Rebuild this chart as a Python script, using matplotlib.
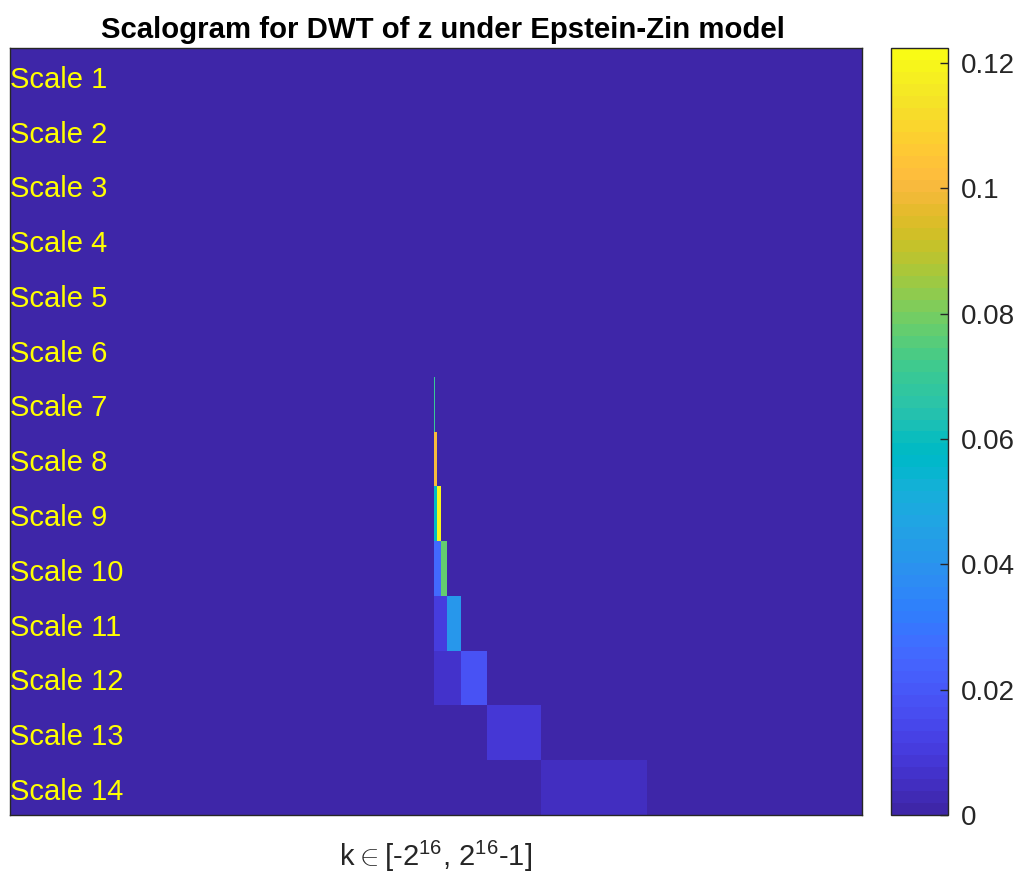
import matplotlib
matplotlib.use("Agg")
import matplotlib.pyplot as plt
import numpy as np
from matplotlib.colors import ListedColormap, Normalize
from matplotlib.transforms import blended_transform_factory

plt.rcParams['font.family'] = ['Liberation Sans', 'DejaVu Sans']
plt.rcParams['mathtext.fontset'] = 'custom'
plt.rcParams['mathtext.rm'] = 'Liberation Sans'

# parula, 64 entries
parula = [
    [0.2422, 0.1504, 0.6603], [0.2504, 0.1650, 0.7076], [0.2578, 0.1818, 0.7511], [0.2647, 0.1978, 0.7952],
    [0.2706, 0.2147, 0.8364], [0.2751, 0.2342, 0.8710], [0.2783, 0.2559, 0.8991], [0.2803, 0.2782, 0.9221],
    [0.2813, 0.3006, 0.9414], [0.2810, 0.3228, 0.9579], [0.2795, 0.3447, 0.9717], [0.2760, 0.3667, 0.9829],
    [0.2699, 0.3892, 0.9906], [0.2602, 0.4123, 0.9952], [0.2440, 0.4358, 0.9988], [0.2206, 0.4603, 0.9973],
    [0.1963, 0.4847, 0.9892], [0.1834, 0.5074, 0.9798], [0.1786, 0.5289, 0.9682], [0.1764, 0.5499, 0.9520],
    [0.1687, 0.5703, 0.9359], [0.1540, 0.5902, 0.9218], [0.1460, 0.6091, 0.9079], [0.1380, 0.6276, 0.8973],
    [0.1248, 0.6459, 0.8883], [0.1113, 0.6635, 0.8763], [0.0952, 0.6798, 0.8598], [0.0689, 0.6948, 0.8394],
    [0.0297, 0.7082, 0.8163], [0.0036, 0.7203, 0.7917], [0.0067, 0.7312, 0.7660], [0.0433, 0.7411, 0.7394],
    [0.0964, 0.7500, 0.7120], [0.1408, 0.7584, 0.6842], [0.1717, 0.7670, 0.6554], [0.1938, 0.7758, 0.6251],
    [0.2161, 0.7843, 0.5923], [0.2470, 0.7918, 0.5567], [0.2906, 0.7973, 0.5188], [0.3406, 0.8008, 0.4789],
    [0.3909, 0.8029, 0.4354], [0.4456, 0.8024, 0.3909], [0.5044, 0.7993, 0.3480], [0.5616, 0.7942, 0.3045],
    [0.6174, 0.7876, 0.2612], [0.6720, 0.7793, 0.2227], [0.7242, 0.7698, 0.1910], [0.7738, 0.7598, 0.1646],
    [0.8203, 0.7498, 0.1535], [0.8634, 0.7406, 0.1596], [0.9035, 0.7330, 0.1774], [0.9393, 0.7288, 0.2100],
    [0.9728, 0.7298, 0.2394], [0.9956, 0.7434, 0.2371], [0.9970, 0.7659, 0.2199], [0.9952, 0.7893, 0.2028],
    [0.9892, 0.8136, 0.1885], [0.9786, 0.8386, 0.1766], [0.9676, 0.8639, 0.1643], [0.9610, 0.8890, 0.1537],
    [0.9597, 0.9135, 0.1423], [0.9628, 0.9373, 0.1265], [0.9691, 0.9606, 0.1064], [0.9769, 0.9839, 0.0805],
]
cmap = ListedColormap(parula)

# data
n_scales = 14
scales = np.arange(1, n_scales + 1)
row_labels = ['Scale %d' % s for s in scales]
k_min, k_max = -2**16, 2**16
k_first = -300  # first coefficient position of the non-zero cells
# non-zero coefficients per scale (cell width 2^scale)
active_scales = [7, 8, 9, 10, 11, 12, 13, 14]
active_values = [
    [0.070],
    [0.100, 0.100],
    [0.058, 0.120],
    [0.025, 0.077],
    [0.011, 0.041],
    [0.0065, 0.018],
    [0.0012, 0.0085],
    [0.0005, 0.0045],
]
cbar_ticks = [0, 0.02, 0.04, 0.06, 0.08, 0.1, 0.12]
cbar_labels = ['0', '0.02', '0.04', '0.06', '0.08', '0.1', '0.12']
vmax = 0.1224

norm = Normalize(vmin=0, vmax=vmax)
fig = plt.figure(figsize=(10.17, 8.73), dpi=100)
ax = fig.add_axes([10 / 1017, 1 - 815 / 873, 852 / 1017, 767 / 873])

mesh = None
for s in scales:
    if s in active_scales:
        vals = active_values[active_scales.index(s)]
        w = 2**s
        edges = [k_min] + [k_first + i * w for i in range(len(vals) + 1)] + [k_max]
        row = [0.0] + list(vals) + [0.0]
    else:
        edges = [k_min, k_max]
        row = [0.0]
    mesh = ax.pcolormesh(edges, [s - 0.5, s + 0.5], np.array([row]), cmap=cmap, norm=norm,
                         shading='flat', antialiased=False, linewidth=0)

ax.set_xlim(k_min, k_max)
ax.set_ylim(n_scales + 0.5, 0.5)
ax.set_xticks([])
ax.set_yticks([])
for sp in ax.spines.values():
    sp.set_color('#262626')
    sp.set_linewidth(1)

trans = blended_transform_factory(ax.transAxes, ax.transData)
for s, lab in zip(scales, row_labels):
    ax.text(0.0, s + 0.08, lab, transform=trans, color=(1, 1, 0), fontsize=21, ha='left', va='center')

ax.set_title('Scalogram for DWT of z under Epstein-Zin model', fontsize=21.2, fontweight='bold',
             color='black', pad=7, x=0.508)
ax.set_xlabel(r'k$\in$[-2$^{16}$, 2$^{16}$-1]', fontsize=21, color='#262626', labelpad=17)

cax = fig.add_axes([891 / 1017, 1 - 815 / 873, 57 / 1017, 767 / 873])
cb = fig.colorbar(mesh, cax=cax, ticks=cbar_ticks)
cb.ax.set_yticklabels(cbar_labels)
cb.ax.tick_params(direction='in', length=6, width=1, color='#262626', labelcolor='#262626',
                  labelsize=20, pad=9)
cb.outline.set_edgecolor('#262626')
cb.outline.set_linewidth(1)

fig.savefig('out.png', dpi=100)
